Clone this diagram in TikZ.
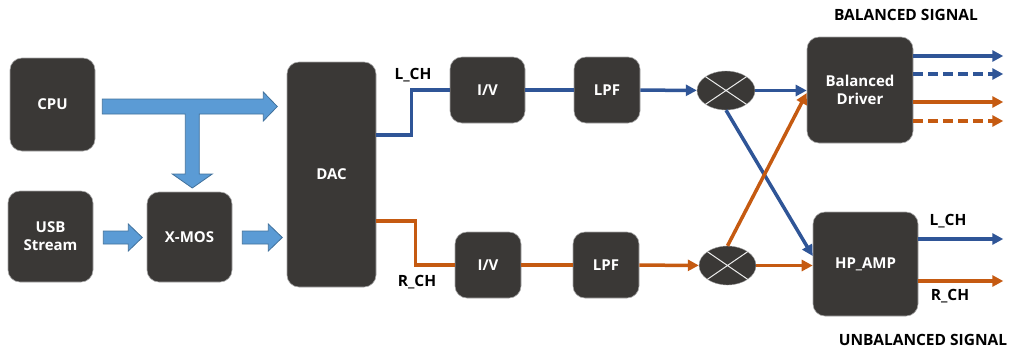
\documentclass[tikz,border=0pt]{standalone}
\usepackage{fontspec}
\setsansfont{Open Sans}
\usepackage{tikz}
\usetikzlibrary{arrows.meta,shapes.geometric,calc,positioning}
\definecolor{boxgray}{HTML}{3A3836}
\definecolor{fatfill}{HTML}{5B9BD5}
\definecolor{fatline}{HTML}{41719C}
\definecolor{lblue}{HTML}{2F5597}
\definecolor{rorange}{HTML}{C55A11}
\tikzset{node distance=2.0cm, auto,
  box/.style={draw=gray!70, line width=0.6pt, fill=boxgray, rounded corners=12pt,
    text=white, font=\sffamily\bfseries\fontsize{15}{18}\selectfont, align=center, inner sep=0pt},
  mixer/.style={ellipse, draw=gray!70, fill=boxgray, inner sep=0pt},
  sig/.style={line width=3.5pt},
  arr/.style={-{Triangle[length=11pt,width=11pt]}},
  dsh/.style={dash pattern=on 10pt off 5pt},
  lbl/.style={font=\sffamily\bfseries\fontsize{15.5}{18}\selectfont, text=black},
  fat/.style={fill=fatfill, draw=fatline, line width=0.8pt}
}

\begin{document}
\begin{tikzpicture}[x=1pt,y=-1pt]
\useasboundingbox (0,0) rectangle (1011,349);

% blocks
\node[box, minimum width=85pt, minimum height=93pt] (cpu) at (52.5,104.5) {CPU};
\node[box, minimum width=85pt, minimum height=91pt] (usb) at (50.5,236.5) {USB\\Stream};
\node[box, minimum width=85pt, minimum height=90pt] (xmos) at (189.5,237) {X-MOS};
\node[box, minimum width=89pt, minimum height=225pt] (dac) at (331.5,174.5) {DAC};
\node[box, minimum width=75pt, minimum height=66pt] (ivL) at (487.5,90) {I/V};
\node[box, minimum width=66pt, minimum height=66pt] (ivR) at (488,265) {I/V};
\node[box, minimum width=66pt, minimum height=66pt] (lpfL) at (607,90) {LPF};
\node[box, minimum width=66pt, minimum height=66pt] (lpfR) at (606,265) {LPF};
\node[mixer, minimum width=58pt, minimum height=39pt] (mixL) at (726,90.5) {};
\node[mixer, minimum width=57pt, minimum height=39pt] (mixR) at (727.5,265.5) {};
\node[box, minimum width=106pt, minimum height=106pt] (bal) at (860,90) {Balanced\\Driver};
\node[box, minimum width=105pt, minimum height=104pt] (hp) at (865.5,264) {HP\_AMP};

\foreach \m in {mixL,mixR}
  \draw[white!85!gray, line width=1pt] (\m.north west) -- (\m.south east)
    (\m.north east) -- (\m.south west);

% fat arrows
\draw[fat] ($(cpu.east)+(7,-5.5)$) -- ++(161,0) -- ++(0,-7) -- ++(14,14.5) -- ++(-14,14.5)
  -- ++(0,-7) -- ++(-64,0) -- ++(0,60) -- ++(13,0) -- ++(-20,14) -- ++(-20,-14)
  -- ++(13,0) -- ++(0,-60) -- ++(-83,0) -- cycle;
\draw[fat] ($(usb.east)+(10,-5.5)$) -- ++(25,0) -- ++(0,-7) -- ++(14,13.5) -- ++(-14,13.5)
  -- ++(0,-7) -- ++(-25,0) -- cycle;
\draw[fat] ($(xmos.east)+(10,-6)$) -- ++(26,0) -- ++(0,-7) -- ++(14,13.5) -- ++(-14,13.5)
  -- ++(0,-7) -- ++(-26,0) -- cycle;

% left channel
\draw[sig, lblue] ([yshift=39.5pt]dac.east) -- ++(35,0) |- (ivL.west);
\draw[sig, lblue] (ivL) -- (lpfL);
\draw[sig, lblue, arr] (lpfL) -- (mixL);
\draw[sig, lblue, arr] (mixL.east) -- (mixL.east -| bal.west);
\draw[sig, lblue, arr] (mixL.south) -- ([yshift=8pt]hp.west);

% right channel
\draw[sig, rorange] ([yshift=-46.5pt]dac.east) -- ++(39,0) |- (ivR.west);
\draw[sig, rorange] (ivR) -- (lpfR);
\draw[sig, rorange, arr] (lpfR) -- (mixR);
\draw[sig, rorange, arr] (mixR.east) -- (mixR.east -| hp.west);
\draw[sig, rorange, arr] (mixR.north) -- ([yshift=-3pt]bal.west);

% outputs
\foreach \dy/\col/\pat [count=\i] in {-34/lblue/solid,-16/lblue/dsh,12/rorange/solid,31/rorange/dsh} {
  \coordinate (balout\i) at ($(bal.east)+(90,\dy)$);
  \draw[sig, \col, \pat, arr] (bal.east |- balout\i) -- (balout\i);
}
\coordinate (hpoutL) at ($(hp.east)+(85,-25)$);
\coordinate (hpoutR) at ($(hp.east)+(85,17)$);
\draw[sig, lblue, arr] (hp.east |- hpoutL) -- (hpoutL);
\draw[sig, rorange, arr] (hp.east |- hpoutR) -- (hpoutR);

% labels
\node[lbl] (lchin) at (413,75) {L\_CH};
\node[lbl] (rchin) at (417,282) {R\_CH};
\node[lbl] (lchout) at (948,221) {L\_CH};
\node[lbl] (rchout) at (950,296) {R\_CH};
\node[lbl] (baltitle) at (906,15) {BALANCED SIGNAL};
\node[lbl] (unbaltitle) at (923,340) {UNBALANCED SIGNAL};
\end{tikzpicture}
\end{document}
